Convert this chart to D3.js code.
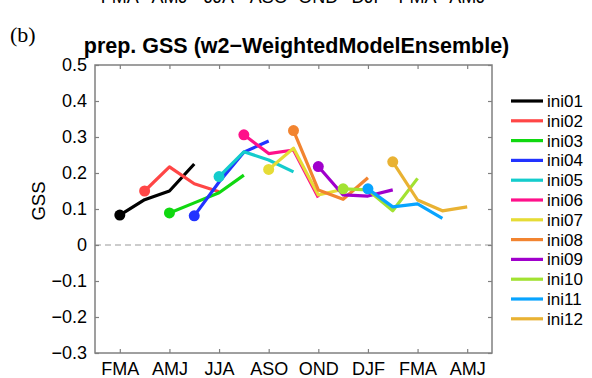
<!DOCTYPE html>
<html>
<head>
<meta charset="utf-8">
<script src="https://cdnjs.cloudflare.com/ajax/libs/d3/7.8.5/d3.min.js"></script>
<style>
  body { margin: 0; background: #fff; }
  svg text { font-family: "Liberation Sans", Arial, sans-serif; }
</style>
</head>
<body>
<svg width="592" height="378"></svg>
<script>
// ---- data ----
var tickLabels = ["FMA", "AMJ", "JJA", "ASO", "OND", "DJF", "FMA", "AMJ"];
var tickPos = [1, 3, 5, 7, 9, 11, 13, 15];   // month index of each tick
var names = ["ini01", "ini02", "ini03", "ini04", "ini05", "ini06",
             "ini07", "ini08", "ini09", "ini10", "ini11", "ini12"];
var starts = [1, 2, 3, 4, 5, 6, 7, 8, 9, 10, 11, 12];
var values = [
  [0.083, 0.126, 0.150, 0.225],
  [0.150, 0.217, 0.170, 0.148],
  [0.089, 0.117, 0.145, 0.194],
  [0.081, 0.175, 0.258, 0.289],
  [0.190, 0.259, 0.236, 0.203],
  [0.306, 0.254, 0.264, 0.132],
  [0.210, 0.269, 0.139, 0.155],
  [0.318, 0.153, 0.127, 0.187],
  [0.218, 0.139, 0.136, 0.153],
  [0.156, 0.153, 0.095, 0.185],
  [0.156, 0.106, 0.114, 0.074],
  [0.231, 0.125, 0.095, 0.106]
];
var colors = ["#000000", "#ff4646", "#10d810", "#2233ff", "#14cccc", "#ff108a",
              "#e6dc36", "#f28430", "#a000cc", "#a2e232", "#08a4ff", "#e9b233"];
var yTicks = [-0.3, -0.2, -0.1, 0, 0.1, 0.2, 0.3, 0.4, 0.5];

var svg = d3.select("svg");
var mLeft = 95, mRight = 492, mTop = 65, mBottom = 353;

var x = d3.scaleLinear().domain([0, 16]).range([mLeft, mRight]);
var y = d3.scaleLinear().domain([-0.3, 0.5]).range([mBottom, mTop]);

// cut-off labels of the panel above
svg.selectAll(".toplab").data(tickLabels).enter().append("text")
    .attr("x", function(d, i) { return x(tickPos[i]); })
    .attr("y", 3)
    .attr("text-anchor", "middle")
    .style("font-size", "18px")
    .text(function(d) { return d; });

svg.append("text").attr("x", 10).attr("y", 42)
    .style("font-family", "'Liberation Serif', 'Times New Roman', serif")
    .style("font-size", "22px").text("(b)");

svg.append("text").attr("x", (mLeft + mRight) / 2 + 3).attr("y", 53)
    .attr("text-anchor", "middle")
    .style("font-size", "21.5px").style("font-weight", "bold")
    .text("prep. GSS (w2\u2212WeightedModelEnsemble)");

// zero line
svg.append("line")
    .attr("x1", mLeft).attr("x2", mRight).attr("y1", y(0)).attr("y2", y(0))
    .attr("stroke", "#999").attr("stroke-width", 1).attr("stroke-dasharray", "6,4");

// axes: box with inward ticks on every side
var axisColor = "#808080";
function styleAxis(g) {
  g.select(".domain").remove();
  g.selectAll(".tick line").attr("stroke", axisColor).attr("stroke-width", 1.2);
  g.selectAll(".tick text").attr("fill", "#000").style("font-size", "18px")
    .style("font-family", "'Liberation Sans', Arial, sans-serif");
}
var fmt = function(d) { return d === 0 ? "0" : d3.format(".1f")(d).replace("-", "\u2212"); };

svg.append("g").attr("transform", "translate(" + mLeft + ",0)")
    .call(d3.axisLeft(y).tickValues(yTicks).tickFormat(fmt).tickSizeInner(-4).tickPadding(8))
    .call(styleAxis);
svg.append("g").attr("transform", "translate(" + mRight + ",0)")
    .call(d3.axisRight(y).tickValues(yTicks).tickFormat("").tickSizeInner(-4))
    .call(styleAxis);
svg.append("g").attr("transform", "translate(0," + mBottom + ")")
    .call(d3.axisBottom(x).tickValues(tickPos)
      .tickFormat(function(d, i) { return tickLabels[i]; }).tickSizeInner(-4).tickPadding(9))
    .call(styleAxis);
svg.append("g").attr("transform", "translate(0," + mTop + ")")
    .call(d3.axisTop(x).tickValues(tickPos).tickFormat("").tickSizeInner(-4))
    .call(styleAxis);

svg.append("rect").attr("x", mLeft).attr("y", mTop)
    .attr("width", mRight - mLeft).attr("height", mBottom - mTop)
    .attr("fill", "none").attr("stroke", axisColor).attr("stroke-width", 1.5);

svg.append("text")
    .attr("transform", "translate(45,201) rotate(-90)")
    .attr("text-anchor", "middle").style("font-size", "18.5px").text("GSS");

// series
var line = d3.line().x(function(d) { return x(d.i); }).y(function(d) { return y(d.v); });
names.forEach(function(n, k) {
  var pts = values[k].map(function(v, j) { return { i: starts[k] + j, v: v }; });
  svg.append("path").datum(pts)
      .attr("d", line).attr("fill", "none")
      .attr("stroke", colors[k]).attr("stroke-width", 3.2)
      .attr("stroke-linejoin", "round");
  svg.append("circle")
      .attr("cx", x(pts[0].i)).attr("cy", y(pts[0].v)).attr("r", 5.5)
      .attr("fill", colors[k]);
});

// legend
var leg = svg.append("g");
names.forEach(function(n, k) {
  var ly = 101 + k * 19.8;
  leg.append("line").attr("x1", 511).attr("x2", 543).attr("y1", ly).attr("y2", ly)
      .attr("stroke", colors[k]).attr("stroke-width", 3.2);
  leg.append("text").attr("x", 547).attr("y", ly + 6)
      .style("font-size", "17px").text(n);
});
</script>
</body>
</html>
